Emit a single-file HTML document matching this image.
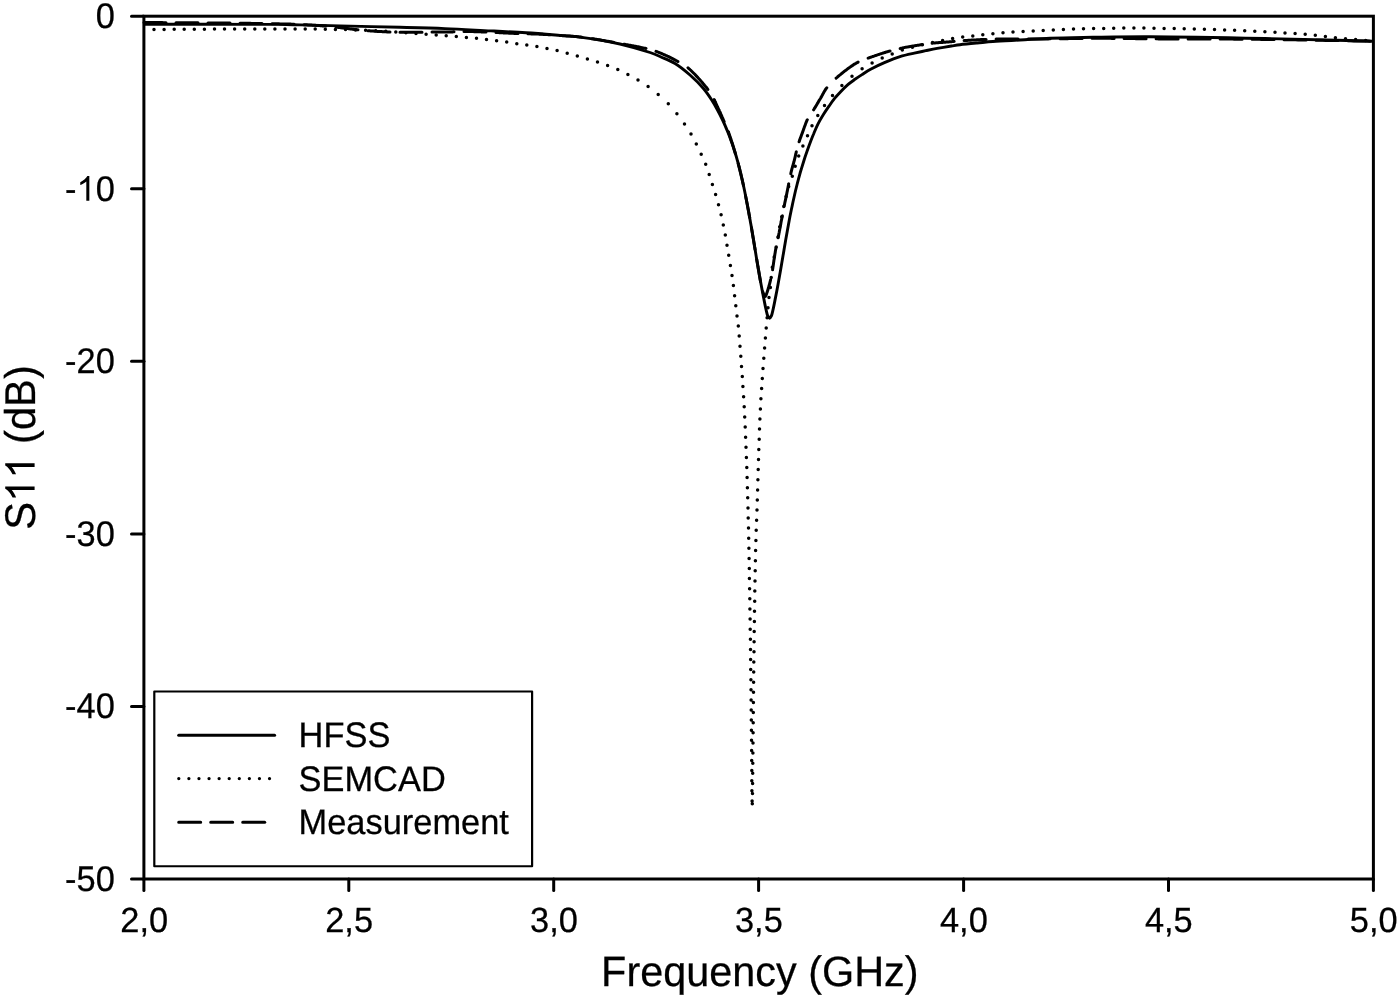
<!DOCTYPE html>
<html><head><meta charset="utf-8"><style>
html,body{margin:0;padding:0;background:#fff;width:1400px;height:999px;overflow:hidden;-webkit-font-smoothing:antialiased}
svg{display:block;filter:grayscale(1)}
text{font-family:"Liberation Sans",sans-serif;fill:#000;text-rendering:geometricPrecision;font-kerning:none}
.tk{font-size:34.4px}
.tt{font-size:41.4px}
.ty{font-size:41.7px}
text{stroke:#000;stroke-width:0.25px}
.h1{fill:transparent;stroke:none}
.ax{stroke:#000;stroke-width:3;stroke-linecap:round;fill:none}
.c{fill:none;stroke:#000;stroke-linejoin:round}
</style></head><body>
<svg width="1400" height="999" viewBox="0 0 1400 999">
<rect x="143.9" y="16.2" width="1229.5" height="862.8" fill="none" stroke="#000" stroke-width="3"/>
<line x1="131.5" y1="16.2" x2="143.9" y2="16.2" class="ax"/>
<g transform="translate(114.8,28.1) scale(1,1.035)"><text id="t1" class="tk" text-anchor="end">0</text></g>
<line x1="131.5" y1="188.8" x2="143.9" y2="188.8" class="ax"/>
<g transform="translate(114.8,200.7) scale(1,1.035)"><text id="t2" class="tk" text-anchor="end">-<tspan class="h1">1</tspan>0</text><path d="M763,0L583,0L583,1147Q518,1085 412,1023Q306,961 222,930L222,1104Q373,1175 486,1276Q599,1377 646,1472L763,1472Z" transform="translate(-38.28,0) scale(0.01680,-0.01623)"/></g>
<line x1="131.5" y1="361.3" x2="143.9" y2="361.3" class="ax"/>
<g transform="translate(114.8,373.2) scale(1,1.035)"><text id="t3" class="tk" text-anchor="end">-20</text></g>
<line x1="131.5" y1="533.9" x2="143.9" y2="533.9" class="ax"/>
<g transform="translate(114.8,545.8) scale(1,1.035)"><text id="t4" class="tk" text-anchor="end">-30</text></g>
<line x1="131.5" y1="706.4" x2="143.9" y2="706.4" class="ax"/>
<g transform="translate(114.8,718.3) scale(1,1.035)"><text id="t5" class="tk" text-anchor="end">-40</text></g>
<line x1="131.5" y1="879.0" x2="143.9" y2="879.0" class="ax"/>
<g transform="translate(114.8,890.9) scale(1,1.035)"><text id="t6" class="tk" text-anchor="end">-50</text></g>
<line x1="143.9" y1="879.0" x2="143.9" y2="890.4" class="ax"/>
<g transform="translate(144.2,932.0) scale(1,1.02)"><text id="t7" class="tk" text-anchor="middle">2,0</text></g>
<line x1="348.8" y1="879.0" x2="348.8" y2="890.4" class="ax"/>
<g transform="translate(349.1,932.0) scale(1,1.02)"><text id="t8" class="tk" text-anchor="middle">2,5</text></g>
<line x1="553.7" y1="879.0" x2="553.7" y2="890.4" class="ax"/>
<g transform="translate(554.0,932.0) scale(1,1.02)"><text id="t9" class="tk" text-anchor="middle">3,0</text></g>
<line x1="758.6" y1="879.0" x2="758.6" y2="890.4" class="ax"/>
<g transform="translate(758.9,932.0) scale(1,1.02)"><text id="t10" class="tk" text-anchor="middle">3,5</text></g>
<line x1="963.6" y1="879.0" x2="963.6" y2="890.4" class="ax"/>
<g transform="translate(963.9,932.0) scale(1,1.02)"><text id="t11" class="tk" text-anchor="middle">4,0</text></g>
<line x1="1168.5" y1="879.0" x2="1168.5" y2="890.4" class="ax"/>
<g transform="translate(1168.8,932.0) scale(1,1.02)"><text id="t12" class="tk" text-anchor="middle">4,5</text></g>
<line x1="1373.4" y1="879.0" x2="1373.4" y2="890.4" class="ax"/>
<g transform="translate(1373.7,932.0) scale(1,1.02)"><text id="t13" class="tk" text-anchor="middle">5,0</text></g>
<path class="c" d="M154.0,29.4h0M164.1,29.4h0M174.2,29.3h0M184.2,29.3h0M194.3,29.2h0M204.4,29.2h0M214.5,29.1h0M224.5,29.1h0M234.6,29.1h0M244.7,29.0h0M254.8,29.0h0M264.8,28.9h0M274.9,28.9h0M285.0,28.9h0M295.1,28.9h0M305.2,28.9h0M315.2,29.0h0M325.3,29.2h0M335.4,29.4h0M345.5,29.6h0M355.5,30.0h0M365.6,30.3h0M375.7,30.8h0M385.8,31.3h0M395.8,32.0h0M405.9,32.8h0M416.0,33.5h0M426.1,34.2h0M436.2,34.9h0M446.2,35.7h0M456.3,36.6h0M466.4,37.4h0M476.5,38.3h0M486.5,39.4h0M496.6,40.7h0M506.7,42.1h0M516.8,43.7h0M526.8,45.0h0M536.9,46.5h0M547.0,48.6h0M557.1,50.6h0M567.2,53.3h0M577.3,56.1h0M587.4,59.1h0M597.5,62.0h0M607.6,65.6h0M617.8,69.6h0M627.9,74.6h0M638.0,79.9h0M648.1,86.6h0M658.2,94.4h0M668.3,103.7h0M676.9,113.8h0M684.5,123.9h0M691.0,134.0h0M696.3,144.1h0M701.2,154.2h0M705.7,164.3h0M709.2,174.4h0M712.4,184.5h0M715.6,194.6h0M718.5,204.7h0M721.1,214.8h0M723.3,224.9h0M725.3,235.1h0M727.0,245.2h0M728.7,255.3h0M730.4,265.4h0M732.0,275.5h0M733.4,285.6h0M734.6,295.7h0M735.8,305.8h0M737.0,315.9h0M738.3,326.0h0M739.2,336.1h0M740.0,346.2h0M740.8,356.3h0M741.5,366.4h0M742.3,376.5h0M742.9,386.6h0M743.6,396.7h0M744.2,406.8h0M744.7,416.9h0M745.2,427.1h0M745.6,437.2h0M746.0,447.3h0M746.4,457.4h0M746.8,467.5h0M747.1,477.6h0M747.4,487.7h0M747.7,497.8h0M748.0,507.9h0M748.2,518.0h0M748.5,528.1h0M748.7,538.2h0M748.9,548.3h0M749.1,558.4h0M749.3,568.5h0M749.4,578.6h0M749.6,588.7h0M749.8,598.8h0M749.9,608.9h0M750.1,619.1h0M750.2,629.2h0M750.4,639.3h0M750.5,649.4h0M750.6,659.5h0M750.7,669.6h0M750.9,679.7h0M751.0,689.8h0M751.1,699.9h0M751.2,710.0h0M751.3,720.1h0M751.4,730.2h0M751.5,740.3h0M751.6,750.4h0M751.7,760.5h0M751.8,770.6h0M751.8,780.7h0M751.9,790.8h0M752.1,801.0h0M752.3,803.7h0M752.5,793.5h0M752.6,783.4h0M752.7,773.3h0M752.8,763.2h0M752.9,753.0h0M753.0,742.9h0M753.1,732.8h0M753.2,722.7h0M753.3,712.6h0M753.4,702.4h0M753.5,692.3h0M753.6,682.2h0M753.7,672.1h0M753.8,661.9h0M754.0,651.8h0M754.1,641.7h0M754.2,631.6h0M754.4,621.4h0M754.5,611.3h0M754.7,601.2h0M754.8,591.1h0M755.0,581.0h0M755.2,570.8h0M755.4,560.7h0M755.6,550.6h0M755.9,540.5h0M756.2,530.3h0M756.6,520.2h0M757.0,510.1h0M757.3,500.0h0M757.6,489.9h0M757.9,479.7h0M758.2,469.6h0M758.5,459.5h0M758.8,449.4h0M759.2,439.2h0M759.5,429.1h0M759.9,419.0h0M760.4,408.9h0M760.9,398.8h0M761.6,388.6h0M762.3,378.5h0M763.0,368.4h0M763.8,358.3h0M764.6,348.1h0M765.4,338.0h0M766.2,327.9h0M767.1,317.8h0M768.0,307.7h0M769.0,297.6h0M770.4,287.5h0M771.2,277.4h0M772.3,267.2h0M774.2,257.1h0M776.2,247.0h0M778.0,236.9h0M779.7,226.8h0M781.7,216.7h0M783.8,206.6h0M786.1,196.5h0M788.7,186.4h0M792.3,176.3h0M795.2,166.2h0M798.7,156.0h0M802.9,145.9h0M807.5,135.8h0M812.0,125.7h0M817.8,115.6h0M824.5,105.5h0M832.5,95.4h0M841.9,85.4h0M852.0,76.2h0M862.1,68.8h0M872.1,63.1h0M882.2,57.9h0M892.2,54.0h0M902.3,49.9h0M912.4,47.2h0M922.4,44.8h0M932.5,42.6h0M942.6,40.5h0M952.6,38.6h0M962.7,37.1h0M972.8,35.9h0M982.8,34.7h0M992.9,33.7h0M1003.0,32.8h0M1013.0,32.0h0M1023.1,31.5h0M1033.2,31.1h0M1043.2,30.5h0M1053.3,29.9h0M1063.4,29.4h0M1073.5,29.0h0M1083.5,28.8h0M1093.6,28.6h0M1103.7,28.4h0M1113.7,28.3h0M1123.8,28.1h0M1133.9,28.0h0M1143.9,28.1h0M1154.0,28.2h0M1164.1,28.4h0M1174.2,28.6h0M1184.2,28.8h0M1194.3,29.0h0M1204.4,29.3h0M1214.5,29.6h0M1224.6,29.9h0M1234.6,30.3h0M1244.7,30.7h0M1254.8,31.2h0M1264.9,31.7h0M1275.0,32.3h0M1285.0,32.9h0M1295.1,33.6h0M1305.2,34.3h0M1315.3,35.2h0M1325.4,36.4h0M1335.4,37.7h0M1345.5,38.7h0M1355.6,39.5h0M1365.7,40.4h0" stroke-width="3.5" stroke-linecap="round"/>
<path class="c" d="M144.0,22.6L145.4,22.6L146.8,22.6L148.2,22.6L149.6,22.6L151.0,22.6L152.4,22.6L153.8,22.6L155.2,22.6L156.6,22.6L158.0,22.6L159.3,22.6L160.7,22.6L162.1,22.6L163.5,22.7L164.9,22.7L166.0,22.7M176.0,22.7L176.1,22.7L177.5,22.7L178.9,22.7L180.3,22.7L181.7,22.7L183.1,22.7L184.5,22.7L185.9,22.7L187.3,22.7L188.7,22.7L190.1,22.7L191.5,22.7L192.9,22.8L194.3,22.8L195.7,22.8L197.2,22.8L198.0,22.8M208.0,22.9L209.0,22.9L210.5,22.9L212.1,22.9L213.6,22.9L215.1,22.9L216.7,22.9L218.2,23.0L219.8,23.0L221.3,23.0L222.9,23.0L224.4,23.0L226.0,23.0L227.5,23.0L229.1,23.1L230.0,23.1M240.0,23.2L241.3,23.2L242.8,23.2L244.3,23.3L245.8,23.3L247.3,23.3L248.7,23.3L250.2,23.3L251.6,23.4L253.1,23.4L254.5,23.4L255.9,23.4L257.3,23.5L258.6,23.5L260.0,23.5L261.1,23.5L262.0,23.5M272.0,23.7L272.8,23.7L273.8,23.7L274.8,23.8L275.8,23.8L276.9,23.8L277.9,23.8L278.9,23.8L279.9,23.9L280.9,23.9L281.9,23.9L282.8,23.9L283.8,24.0L284.8,24.0L285.8,24.0L286.7,24.0L287.7,24.1L288.7,24.1L289.6,24.1L290.6,24.1L291.5,24.2L292.5,24.2L293.4,24.2L294.0,24.3M304.0,24.7L304.7,24.7L305.5,24.8L306.3,24.8L307.0,24.8L307.8,24.9L308.6,24.9L309.3,25.0L310.1,25.0L310.8,25.1L311.6,25.1L312.3,25.2L313.1,25.2L313.8,25.2L314.5,25.3L315.3,25.3L316.0,25.4L316.7,25.4L317.5,25.5L318.2,25.5L318.9,25.6L319.7,25.6L320.4,25.7L321.1,25.8L321.9,25.8L322.6,25.9L323.3,25.9L324.1,26.0L324.8,26.0L325.5,26.1L326.0,26.1M336.0,27.1L336.0,27.1L336.8,27.2L337.5,27.3L338.3,27.4L339.0,27.5L339.8,27.6L340.5,27.7L341.3,27.8L342.0,27.9L342.8,28.0L343.5,28.1L344.3,28.2L345.0,28.2L345.7,28.3L346.5,28.4L347.2,28.5L348.0,28.6L348.7,28.7L349.5,28.8L350.2,28.9L351.0,29.0L351.7,29.1L352.5,29.2L353.2,29.3L354.0,29.4L354.7,29.5L355.5,29.5L356.2,29.6L357.0,29.7L357.7,29.8L358.0,29.8M368.0,30.7L368.2,30.7L369.0,30.8L369.7,30.8L370.5,30.9L371.2,30.9L372.0,31.0L372.7,31.0L373.5,31.1L374.2,31.2L375.0,31.2L375.7,31.3L376.5,31.3L377.2,31.4L378.0,31.4L378.7,31.4L379.5,31.5L380.2,31.5L381.0,31.6L381.7,31.6L382.5,31.7L383.2,31.7L384.0,31.7L384.7,31.8L385.5,31.8L386.2,31.8L387.0,31.9L387.7,31.9L388.5,31.9L389.2,32.0L390.0,32.0M400.0,32.2L400.6,32.2L401.4,32.2L402.1,32.2L402.9,32.2L403.6,32.2L404.4,32.2L405.2,32.2L405.9,32.2L406.7,32.2L407.4,32.2L408.2,32.2L408.9,32.2L409.7,32.2L410.5,32.2L411.2,32.2L411.9,32.2L412.7,32.2L413.4,32.2L414.2,32.2L414.9,32.2L415.6,32.2L416.4,32.2L417.1,32.2L417.8,32.2L418.6,32.2L419.3,32.2L420.0,32.2L420.7,32.2L421.3,32.2L421.9,32.2L422.0,32.2M432.0,32.1L432.0,32.1L432.6,32.1L433.3,32.1L433.9,32.1L434.5,32.1L435.1,32.1L435.7,32.1L436.3,32.1L437.0,32.1L437.6,32.1L438.2,32.1L438.8,32.1L439.4,32.1L440.0,32.1L440.7,32.1L441.3,32.0L441.9,32.0L442.5,32.0L443.1,32.0L443.8,32.0L444.4,32.0L445.0,32.0L445.6,32.0L446.3,32.0L446.9,32.0L447.5,32.0L448.1,32.0L448.8,31.9L449.4,31.9L450.0,31.9L450.7,31.9L451.3,31.9L452.0,31.9L452.6,31.9L453.2,31.8L453.9,31.8L454.0,31.8M464.0,31.6L464.6,31.6L465.2,31.6L465.8,31.6L466.4,31.6L467.0,31.6L467.6,31.6L468.2,31.6L468.8,31.6L469.4,31.6L470.0,31.6L470.5,31.6L471.1,31.6L471.6,31.6L472.1,31.6L472.6,31.6L473.1,31.6L473.6,31.6L474.1,31.7L474.7,31.7L475.2,31.7L475.7,31.7L476.2,31.7L476.7,31.7L477.2,31.7L477.7,31.7L478.2,31.8L478.7,31.8L479.2,31.8L479.6,31.8L480.1,31.8L480.6,31.8L481.1,31.9L481.6,31.9L482.1,31.9L482.6,31.9L483.1,31.9L483.6,31.9L484.1,32.0L484.6,32.0L485.1,32.0L485.5,32.0L486.0,32.0M496.0,32.5L496.4,32.5L496.8,32.5L497.3,32.6L497.8,32.6L498.3,32.6L498.8,32.6L499.3,32.7L499.7,32.7L500.2,32.7L500.7,32.7L501.2,32.8L501.7,32.8L502.2,32.8L502.7,32.8L503.2,32.9L503.7,32.9L504.2,32.9L504.7,33.0L505.2,33.0L505.7,33.0L506.3,33.0L506.8,33.1L507.3,33.1L507.8,33.1L508.4,33.1L508.9,33.2L509.5,33.2L510.0,33.2L510.7,33.2L511.4,33.3L512.1,33.3L512.8,33.3L513.5,33.3L514.2,33.4L515.0,33.4L515.7,33.4L516.5,33.4L517.2,33.5L518.0,33.5L518.0,33.5M528.0,33.8L528.1,33.8L528.9,33.8L529.7,33.8L530.5,33.8L531.3,33.9L532.0,33.9L532.8,33.9L533.5,33.9L534.3,34.0L535.0,34.0L535.8,34.0L536.5,34.0L537.2,34.1L537.9,34.1L538.6,34.1L539.3,34.2L540.0,34.2L540.5,34.2L541.1,34.3L541.6,34.3L542.2,34.3L542.7,34.3L543.2,34.4L543.7,34.4L544.3,34.4L544.8,34.5L545.3,34.5L545.8,34.5L546.3,34.6L546.8,34.6L547.3,34.6L547.8,34.6L548.3,34.7L548.8,34.7L549.3,34.7L549.8,34.8L550.0,34.8M560.0,35.5L560.0,35.5L560.5,35.5L561.0,35.6L561.5,35.6L562.0,35.6L562.5,35.7L562.9,35.7L563.4,35.7L563.9,35.7L564.4,35.8L564.8,35.8L565.3,35.8L565.8,35.9L566.3,35.9L566.7,35.9L567.2,35.9L567.7,36.0L568.2,36.0L568.6,36.0L569.1,36.0L569.6,36.1L570.1,36.1L570.5,36.1L571.0,36.2L571.5,36.2L572.0,36.2L572.5,36.3L573.0,36.3L573.5,36.4L574.0,36.4L574.5,36.4L575.0,36.5L575.6,36.5L576.1,36.6L576.6,36.6L577.2,36.7L577.7,36.7L578.3,36.8L578.8,36.9L579.4,36.9L580.0,37.0L580.8,37.1L581.7,37.2L582.0,37.2M592.0,38.7L592.1,38.7L593.1,38.8L594.1,39.0L595.2,39.2L596.2,39.3L597.2,39.5L598.3,39.7L599.3,39.8L600.4,40.0L601.4,40.2L602.5,40.4L603.6,40.5L604.6,40.7L605.7,40.9L606.7,41.1L607.8,41.3L608.8,41.5L609.9,41.6L610.9,41.8L612.0,42.0L613.0,42.2L614.0,42.4M624.0,44.2L624.6,44.3L625.5,44.5L626.4,44.7L627.3,44.8L628.2,45.0L629.1,45.2L630.1,45.3L631.0,45.5L631.9,45.7L632.8,45.8L633.7,46.0L634.6,46.2L635.5,46.3L636.4,46.5L637.3,46.7L638.2,46.8L639.1,47.0L640.0,47.2L640.9,47.4L641.8,47.6L642.6,47.8L643.5,47.9L644.4,48.1L645.2,48.3L646.0,48.5M656.0,51.3L656.2,51.4L656.9,51.6L657.5,51.9L658.1,52.1L658.7,52.3L659.3,52.6L659.9,52.8L660.5,53.0L661.1,53.3L661.7,53.5L662.3,53.8L662.9,54.1L663.5,54.3L664.1,54.6L664.7,54.8L665.2,55.1L665.8,55.4L666.4,55.6L666.9,55.9L667.5,56.2L668.1,56.4L668.6,56.7L669.1,56.9L669.7,57.2L670.2,57.5L670.7,57.7L671.3,58.0L671.8,58.3L672.3,58.5L672.8,58.8L673.3,59.0L673.8,59.3L674.2,59.6L674.7,59.8L675.2,60.0L675.7,60.3L676.1,60.5L676.6,60.8L677.0,61.0L677.3,61.2L677.6,61.3L677.9,61.5L678.0,61.5M688.0,67.8L688.3,68.1L688.8,68.5L689.2,68.9L689.7,69.3L690.2,69.8L690.7,70.2L691.2,70.7L691.7,71.2L692.2,71.7L692.7,72.2L693.2,72.7L693.7,73.2L694.3,73.8L694.8,74.3L695.3,74.9L695.8,75.4L696.3,76.0L696.9,76.5L697.4,77.1L697.9,77.6L698.4,78.2L698.9,78.8L699.4,79.3L699.9,79.9L700.4,80.4L700.9,81.0L701.4,81.5L701.9,82.1L702.3,82.6L702.8,83.1L703.2,83.7L703.7,84.2L704.1,84.7L704.5,85.2L704.9,85.6L705.3,86.1L705.6,86.6L706.0,87.0L706.2,87.3L706.5,87.6L706.7,87.9L706.9,88.1L707.1,88.4L707.3,88.7L707.5,89.0L707.7,89.2L707.9,89.5M714.1,99.5L714.1,99.6L714.2,99.8L714.4,100.1L714.5,100.3L714.6,100.6L714.8,100.9L714.9,101.1L715.0,101.4L715.1,101.7L715.2,101.9L715.4,102.2L715.5,102.4L715.6,102.7L715.7,103.0L715.9,103.2L716.0,103.5L716.1,103.8L716.2,104.0L716.3,104.3L716.4,104.6L716.6,104.8L716.7,105.1L716.8,105.3L716.9,105.6L717.0,105.9L717.2,106.1L717.3,106.4L717.4,106.7L717.5,106.9L717.6,107.2L717.8,107.5L717.9,107.7L718.0,108.0L718.1,108.3L718.3,108.5L718.4,108.8L718.5,109.1L718.6,109.4L718.8,109.6L718.9,109.9L719.0,110.2L719.1,110.4L719.3,110.7L719.4,111.0L719.5,111.3L719.6,111.5L719.8,111.8L719.9,112.1L720.0,112.4L720.1,112.6L720.3,112.9L720.4,113.2L720.5,113.4L720.6,113.7L720.8,114.0L720.9,114.3L721.0,114.5L721.1,114.8L721.3,115.1L721.4,115.4L721.5,115.6L721.6,115.9L721.8,116.2L721.9,116.5L722.0,116.8L722.1,117.0L722.3,117.3L722.4,117.6L722.5,117.9L722.6,118.2L722.8,118.4L722.9,118.7L723.0,119.0L723.1,119.3L723.3,119.6L723.4,119.9L723.5,120.2L723.6,120.5L723.8,120.8L723.9,121.1L724.0,121.4L724.1,121.5M728.2,131.5L728.2,131.6L728.3,131.9L728.4,132.2L728.5,132.4L728.6,132.7L728.8,133.0L728.9,133.3L729.0,133.6L729.1,133.9L729.2,134.2L729.3,134.5L729.4,134.7L729.5,135.0L729.6,135.3L729.7,135.6L729.8,135.9L729.9,136.2L730.0,136.5L730.1,136.8L730.2,137.0L730.3,137.3L730.4,137.6L730.5,137.9L730.6,138.2L730.7,138.5L730.8,138.8L730.9,139.0L731.0,139.3L731.1,139.6L731.1,139.9L731.2,140.2L731.3,140.5L731.4,140.8L731.5,141.1L731.6,141.3L731.7,141.6L731.8,141.9L731.9,142.2L732.0,142.5L732.1,142.8L732.2,143.1L732.3,143.4L732.4,143.6L732.5,143.9L732.6,144.2L732.6,144.5L732.7,144.8L732.8,145.1L732.9,145.4L733.0,145.6L733.1,145.9L733.2,146.2L733.3,146.5L733.4,146.8L733.4,147.1L733.5,147.3L733.6,147.6L733.7,147.9L733.8,148.2L733.9,148.5L734.0,148.8L734.0,149.1L734.1,149.3L734.2,149.6L734.3,149.9L734.4,150.2L734.5,150.5L734.6,150.8L734.6,151.1L734.7,151.4L734.8,151.7L734.9,151.9L735.0,152.2L735.1,152.5L735.2,152.8L735.2,153.1L735.3,153.4L735.4,153.5M738.2,163.5L738.2,163.6L738.3,163.9L738.4,164.2L738.4,164.5L738.5,164.9L738.6,165.2L738.7,165.5L738.8,165.8L738.9,166.1L738.9,166.4L739.0,166.7L739.1,167.0L739.2,167.2L739.2,167.5L739.3,167.7L739.3,168.0L739.4,168.2L739.5,168.4L739.5,168.7L739.6,168.9L739.6,169.1L739.7,169.3L739.8,169.6L739.8,169.8L739.9,170.0L739.9,170.2L740.0,170.4L740.0,170.6L740.1,170.9L740.1,171.1L740.2,171.3L740.2,171.5L740.3,171.7L740.3,171.9L740.4,172.2L740.4,172.4L740.5,172.6L740.5,172.8L740.6,173.0L740.7,173.2L740.7,173.5L740.8,173.7L740.8,173.9L740.9,174.1L740.9,174.4L741.0,174.6L741.0,174.8L741.1,175.0L741.1,175.3L741.2,175.5L741.2,175.8L741.3,176.0L741.4,176.3L741.4,176.6L741.5,176.9L741.6,177.2L741.6,177.5L741.7,177.8L741.8,178.1L741.9,178.4L741.9,178.7L742.0,179.0L742.1,179.3L742.1,179.6L742.2,179.9L742.3,180.3L742.4,180.6L742.4,180.9L742.5,181.2L742.6,181.5L742.6,181.9L742.7,182.2L742.8,182.5L742.9,182.8L742.9,183.2L743.0,183.5L743.1,183.8L743.1,184.1L743.2,184.4L743.3,184.8L743.4,185.1L743.4,185.4L743.5,185.5M745.5,195.5L745.5,195.6L745.6,195.9L745.6,196.1L745.7,196.4L745.7,196.6L745.8,196.9L745.8,197.2L745.9,197.4L745.9,197.7L746.0,197.9L746.0,198.2L746.1,198.5L746.1,198.7L746.2,199.0L746.3,199.3L746.3,199.5L746.4,199.8L746.4,200.1L746.5,200.4L746.5,200.6L746.6,200.9L746.6,201.2L746.7,201.5L746.7,201.7L746.8,202.0L746.8,202.3L746.9,202.6L746.9,202.9L747.0,203.1L747.1,203.4L747.1,203.7L747.2,204.0L747.2,204.2L747.3,204.5L747.3,204.8L747.4,205.1L747.4,205.3L747.5,205.6L747.5,205.9L747.6,206.2L747.6,206.5L747.7,206.7L747.7,207.0L747.8,207.3L747.8,207.6L747.9,207.8L747.9,208.1L748.0,208.4L748.0,208.6L748.1,208.9L748.1,209.2L748.2,209.5L748.3,209.7L748.3,210.0L748.3,210.3L748.4,210.5L748.4,210.8L748.5,211.0L748.5,211.3L748.6,211.5L748.6,211.8L748.7,212.0L748.7,212.3L748.8,212.5L748.8,212.8L748.9,213.0L748.9,213.3L748.9,213.5L749.0,213.8L749.0,214.0L749.1,214.3L749.1,214.5L749.2,214.8L749.2,215.0L749.3,215.2L749.3,215.5L749.3,215.7L749.4,216.0L749.4,216.2L749.5,216.5L749.5,216.7L749.6,217.0L749.6,217.2L749.7,217.5L749.7,217.5M751.4,227.5L751.4,227.6L751.5,227.9L751.5,228.2L751.6,228.5L751.6,228.7L751.7,229.0L751.7,229.3L751.8,229.6L751.8,229.9L751.9,230.2L751.9,230.4L752.0,230.7L752.0,231.0L752.1,231.3L752.1,231.6L752.2,231.9L752.2,232.2L752.3,232.5L752.3,232.8L752.4,233.1L752.4,233.4L752.5,233.7L752.5,234.1L752.6,234.4L752.6,234.7L752.7,235.0L752.7,235.3L752.8,235.6L752.8,235.9L752.9,236.2L752.9,236.5L753.0,236.9L753.0,237.2L753.1,237.5L753.1,237.8L753.2,238.1L753.3,238.4L753.3,238.7L753.4,239.1L753.4,239.4L753.5,239.7L753.5,240.0L753.6,240.3L753.6,240.6L753.7,241.0L753.7,241.3L753.8,241.6L753.8,241.9L753.9,242.2L753.9,242.5L754.0,242.9L754.0,243.2L754.1,243.5L754.2,243.8L754.2,244.2L754.3,244.5L754.3,244.8L754.4,245.2L754.4,245.5L754.5,245.8L754.5,246.2L754.6,246.5L754.6,246.8L754.7,247.2L754.8,247.5L754.8,247.8L754.9,248.2L754.9,248.5L755.0,248.9L755.0,249.2L755.1,249.5M756.7,259.5L756.8,259.7L756.8,260.0L756.9,260.4L756.9,260.7L757.0,261.1L757.0,261.4L757.1,261.7L757.2,262.1L757.2,262.4L757.3,262.7L757.3,263.1L757.4,263.4L757.4,263.8L757.5,264.1L757.6,264.4L757.6,264.8L757.7,265.1L757.7,265.4L757.8,265.8L757.8,266.1L757.9,266.5L758.0,266.8L758.0,267.1L758.1,267.5L758.1,267.8L758.2,268.1L758.2,268.5L758.3,268.8L758.4,269.2L758.4,269.5L758.5,269.8L758.5,270.2L758.6,270.5L758.7,270.8L758.7,271.2L758.8,271.5L758.8,271.9L758.9,272.2L759.0,272.6L759.0,272.9L759.1,273.3L759.1,273.6L759.2,273.9L759.2,274.3L759.3,274.7L759.4,275.0L759.4,275.4L759.5,275.7L759.5,276.1L759.6,276.4L759.7,276.8L759.7,277.1L759.8,277.4L759.8,277.8L759.9,278.1L760.0,278.5L760.0,278.8L760.1,279.2L760.1,279.5L760.2,279.8L760.3,280.2L760.3,280.5L760.4,280.8L760.5,281.2L760.5,281.5L760.5,281.5M762.6,291.5L762.7,291.6L762.7,291.8L762.8,292.0L762.9,292.2L762.9,292.3L763.0,292.5L763.0,292.6L763.1,292.8L763.2,292.9L763.2,293.0L763.3,293.1L763.3,293.3L763.4,293.4L763.4,293.5L763.5,293.7L763.5,293.8L763.6,294.0L763.7,294.1L763.7,294.2L763.8,294.4L763.8,294.5L763.9,294.6L764.0,294.8L764.0,294.9L764.1,295.0L764.2,295.1L764.2,295.2L764.3,295.4L764.3,295.5L764.4,295.6L764.5,295.7L764.5,295.8L764.6,295.9L764.6,296.0L764.7,296.0L764.8,296.1L764.8,296.2L764.9,296.3L764.9,296.3L765.0,296.4L765.0,296.4L765.1,296.4L765.2,296.5L765.2,296.5L765.3,296.5L765.3,296.5L765.3,296.5L765.4,296.5L765.4,296.5L765.4,296.5L765.5,296.4L765.5,296.4L765.5,296.4L765.6,296.3L765.6,296.3L765.6,296.3L765.7,296.2L765.7,296.2L765.7,296.1L765.8,296.0L765.8,296.0L765.8,295.9L765.8,295.9L765.9,295.8L765.9,295.7L765.9,295.7L765.9,295.6L766.0,295.5L766.0,295.4L766.0,295.3L766.1,295.3L766.1,295.2L766.1,295.1L766.1,295.0L766.2,294.9L766.2,294.8L766.2,294.8L766.3,294.7L766.3,294.6L766.3,294.5L766.3,294.4L766.4,294.3L766.4,294.2L766.4,294.2L766.5,294.1L766.5,294.0L766.6,293.9L766.6,293.7L766.7,293.6L766.7,293.4L766.8,293.2L766.8,293.1L766.9,292.9L767.0,292.7L767.0,292.5L767.1,292.4L767.2,292.2L767.2,292.0L767.3,291.8L767.3,291.6L767.4,291.4L767.5,291.2L767.5,291.0L767.6,290.8L767.7,290.6L767.7,290.4L767.8,290.2L767.9,290.0L767.9,289.7L768.0,289.5L768.1,289.3L768.1,289.1L768.2,288.9L768.2,288.6L768.3,288.4L768.4,288.2L768.4,288.0L768.5,287.8L768.6,287.5L768.6,287.3L768.7,287.1L768.8,286.9L768.8,286.7L768.9,286.4L768.9,286.2L769.0,286.0L769.1,285.7L769.1,285.5L769.2,285.2L769.3,285.0L769.4,284.7L769.4,284.4L769.5,284.1L769.6,283.9L769.7,283.6L769.7,283.3L769.8,283.0L769.9,282.7L770.0,282.4L770.0,282.1L770.1,281.8L770.2,281.5L770.2,281.3L770.3,281.0L770.4,280.7L770.5,280.4L770.5,280.1L770.6,279.8L770.6,279.8M772.6,269.8L772.6,269.8L772.6,269.6L772.6,269.4L772.7,269.1L772.7,268.9L772.8,268.6L772.8,268.4L772.8,268.1L772.9,267.8L772.9,267.6L772.9,267.3L773.0,267.0L773.0,266.7L773.1,266.4L773.1,266.1L773.2,265.9L773.2,265.6L773.2,265.3L773.3,265.0L773.3,264.7L773.4,264.4L773.4,264.1L773.5,263.8L773.5,263.5L773.5,263.1L773.6,262.8L773.6,262.5L773.7,262.2L773.7,261.9L773.8,261.6L773.8,261.3L773.8,261.0L773.9,260.7L773.9,260.4L774.0,260.1L774.0,259.8L774.1,259.5L774.1,259.2L774.2,258.9L774.2,258.6L774.3,258.3L774.3,258.0L774.3,257.7L774.4,257.4L774.4,257.1L774.5,256.9L774.5,256.6L774.6,256.3L774.6,256.0L774.7,255.7L774.7,255.4L774.7,255.2L774.8,254.9L774.8,254.6L774.9,254.3L774.9,254.0L775.0,253.7L775.0,253.5L775.1,253.2L775.1,252.9L775.2,252.6L775.2,252.3L775.3,252.0L775.3,251.8L775.3,251.5L775.4,251.2L775.4,250.9L775.5,250.6L775.5,250.3L775.6,250.1L775.6,249.8L775.7,249.5L775.7,249.2L775.8,248.9L775.8,248.7L775.9,248.4L775.9,248.1L776.0,247.8L776.0,247.8M778.1,237.8L778.1,237.7L778.2,237.4L778.3,237.2L778.3,236.9L778.4,236.6L778.4,236.3L778.5,236.0L778.6,235.6L778.6,235.3L778.7,234.9L778.8,234.5L778.9,234.1L778.9,233.7L779.0,233.3L779.1,232.9L779.2,232.5L779.3,232.0L779.3,231.6L779.4,231.2L779.5,230.7L779.6,230.3L779.7,229.9L779.7,229.4L779.8,229.0L779.9,228.6L780.0,228.1L780.1,227.7L780.1,227.2L780.2,226.8L780.3,226.4L780.4,226.0L780.5,225.5L780.5,225.1L780.6,224.7L780.7,224.3L780.8,223.9L780.8,223.5L780.9,223.1L781.0,222.7L781.0,222.3L781.1,222.0L781.2,221.6L781.2,221.3L781.3,220.9L781.4,220.6L781.4,220.3L781.5,220.0L781.5,219.8L781.6,219.7L781.6,219.5L781.6,219.3L781.7,219.2L781.7,219.0L781.7,218.9L781.8,218.7L781.8,218.6L781.8,218.5L781.9,218.3L781.9,218.2L781.9,218.0L781.9,217.9L782.0,217.8L782.0,217.7L782.0,217.5L782.1,217.4L782.1,217.3L782.1,217.2L782.2,217.0L782.2,216.9L782.2,216.8L782.2,216.7L782.3,216.5L782.3,216.4L782.3,216.3L782.3,216.2L782.4,216.0L782.4,215.9L782.4,215.8M784.2,205.8L784.3,205.7L784.3,205.5L784.4,205.2L784.4,205.0L784.5,204.7L784.5,204.4L784.6,204.2L784.6,203.9L784.7,203.6L784.7,203.4L784.8,203.1L784.8,202.8L784.9,202.6L784.9,202.3L785.0,202.0L785.1,201.7L785.1,201.5L785.2,201.2L785.2,200.9L785.3,200.7L785.4,200.4L785.4,200.1L785.5,199.8L785.5,199.5L785.6,199.3L785.7,199.0L785.7,198.7L785.8,198.4L785.8,198.1L785.9,197.9L786.0,197.6L786.0,197.3L786.1,197.0L786.1,196.7L786.2,196.5L786.2,196.2L786.3,195.9L786.4,195.6L786.4,195.3L786.5,195.1L786.5,194.8L786.6,194.5L786.7,194.2L786.7,193.9L786.8,193.6L786.8,193.3L786.9,193.0L787.0,192.7L787.0,192.4L787.1,192.1L787.1,191.8L787.2,191.5L787.3,191.2L787.3,190.9L787.4,190.6L787.4,190.3L787.5,190.0L787.6,189.7L787.6,189.4L787.7,189.1L787.7,188.8L787.8,188.5L787.9,188.2L787.9,187.9L788.0,187.6L788.0,187.3L788.1,187.0L788.2,186.7L788.2,186.4L788.3,186.1L788.3,185.8L788.4,185.5L788.5,185.2L788.5,184.9L788.6,184.6L788.6,184.3L788.7,184.0L788.7,183.8M790.8,173.8L790.8,173.6L790.9,173.3L790.9,173.0L791.0,172.7L791.1,172.4L791.1,172.1L791.2,171.9L791.3,171.6L791.3,171.3L791.4,171.0L791.5,170.7L791.5,170.4L791.6,170.2L791.7,169.9L791.7,169.6L791.8,169.3L791.9,169.0L792.0,168.8L792.0,168.5L792.1,168.2L792.2,167.9L792.3,167.6L792.4,167.4L792.4,167.1L792.5,166.8L792.6,166.5L792.7,166.2L792.7,166.0L792.8,165.7L792.9,165.4L793.0,165.1L793.1,164.9L793.1,164.6L793.2,164.3L793.3,164.0L793.4,163.8L793.5,163.5L793.5,163.2L793.6,162.9L793.7,162.7L793.8,162.4L793.8,162.1L793.9,161.9L794.0,161.6L794.1,161.3L794.1,161.1L794.2,160.8L794.3,160.5L794.3,160.3L794.4,160.0L794.5,159.8L794.5,159.5L794.6,159.3L794.6,159.1L794.7,158.8L794.7,158.6L794.8,158.4L794.8,158.2L794.9,157.9L795.0,157.7L795.0,157.5L795.1,157.3L795.1,157.1L795.2,156.8L795.2,156.6L795.3,156.4L795.3,156.2L795.4,156.0L795.4,155.7L795.5,155.5L795.5,155.3L795.5,155.1L795.6,154.9L795.6,154.6L795.7,154.4L795.7,154.2L795.8,154.0L795.8,153.8L795.9,153.5L796.0,153.3L796.0,153.1L796.1,152.9L796.1,152.7L796.2,152.4L796.2,152.2L796.3,152.0L796.3,151.8L796.3,151.8M799.1,141.8L799.2,141.5L799.3,141.3L799.4,141.0L799.5,140.8L799.6,140.5L799.6,140.2L799.7,140.0L799.8,139.7L799.9,139.4L800.0,139.2L800.1,138.9L800.2,138.6L800.3,138.4L800.4,138.1L800.5,137.8L800.6,137.6L800.7,137.3L800.8,137.0L800.9,136.8L801.0,136.5L801.1,136.2L801.2,135.9L801.3,135.7L801.4,135.4L801.5,135.1L801.6,134.9L801.7,134.6L801.8,134.3L801.9,134.0L802.0,133.8L802.1,133.5L802.2,133.2L802.3,133.0L802.4,132.7L802.5,132.4L802.6,132.1L802.7,131.9L802.8,131.6L802.9,131.3L803.0,131.0L803.1,130.8L803.2,130.5L803.3,130.2L803.4,129.9L803.5,129.6L803.6,129.4L803.7,129.1L803.8,128.8L803.9,128.5L804.0,128.2L804.1,127.9L804.2,127.6L804.3,127.3L804.4,127.0L804.5,126.7L804.6,126.4L804.7,126.1L804.8,125.9L805.0,125.6L805.1,125.3L805.2,125.0L805.3,124.7L805.4,124.4L805.5,124.1L805.6,123.8L805.7,123.5L805.8,123.2L805.9,122.9L806.0,122.6L806.2,122.3L806.3,122.0L806.4,121.8L806.5,121.5L806.6,121.2L806.8,120.9L806.9,120.6L807.0,120.3L807.1,120.0L807.3,119.8M813.6,109.8L813.8,109.5L813.9,109.3L814.1,109.0L814.3,108.7L814.5,108.4L814.7,108.1L814.8,107.9L815.0,107.6L815.2,107.3L815.3,107.1L815.5,106.8L815.6,106.6L815.8,106.3L815.9,106.1L816.1,105.9L816.2,105.6L816.4,105.4L816.5,105.1L816.7,104.9L816.8,104.6L817.0,104.4L817.1,104.1L817.2,103.9L817.4,103.6L817.5,103.4L817.7,103.2L817.8,102.9L818.0,102.7L818.1,102.4L818.2,102.2L818.4,101.9L818.5,101.7L818.7,101.4L818.8,101.2L818.9,101.0L819.1,100.7L819.2,100.5L819.4,100.2L819.5,100.0L819.7,99.8L819.8,99.5L819.9,99.3L820.1,99.0L820.2,98.8L820.4,98.5L820.5,98.3L820.7,98.0L820.8,97.8L820.9,97.6L821.1,97.3L821.2,97.1L821.4,96.8L821.5,96.6L821.7,96.3L821.8,96.1L821.9,95.8L822.1,95.6L822.2,95.3L822.3,95.1L822.5,94.8L822.6,94.6L822.7,94.3L822.9,94.1L823.0,93.8L823.2,93.6L823.3,93.3L823.4,93.1L823.6,92.8L823.7,92.6L823.8,92.3L824.0,92.1L824.1,91.8L824.3,91.6L824.4,91.3L824.6,91.1L824.7,90.8L824.9,90.6L825.0,90.4L825.2,90.1L825.3,89.9L825.5,89.6L825.6,89.4L825.8,89.2L825.9,88.9L826.1,88.7L826.3,88.5L826.4,88.2L826.6,88.0L826.8,87.8M836.1,78.1L836.2,78.0L836.7,77.7L837.2,77.3L837.6,76.9L838.1,76.4L838.6,76.0L839.1,75.6L839.6,75.2L840.1,74.8L840.7,74.3L841.2,73.9L841.7,73.5L842.3,73.0L842.8,72.6L843.4,72.1L843.9,71.7L844.5,71.3L845.0,70.8L845.6,70.4L846.2,70.0L846.7,69.6L847.3,69.1L847.8,68.7L848.4,68.3L848.9,67.9L849.5,67.5L850.0,67.2L850.5,66.8L851.1,66.4L851.6,66.1L852.1,65.7L852.6,65.4L853.1,65.1L853.5,64.7L854.0,64.4L854.5,64.2L854.9,63.9L855.2,63.7L855.5,63.6L855.7,63.4L856.0,63.3L856.3,63.1L856.5,63.0L856.8,62.8L857.0,62.7L857.3,62.6L857.5,62.4L857.8,62.3L858.0,62.2L858.1,62.1M868.1,58.1L868.5,58.0L869.0,57.8L869.5,57.6L870.0,57.4L870.6,57.3L871.1,57.1L871.7,56.9L872.3,56.7L872.8,56.5L873.4,56.3L874.0,56.1L874.6,55.9L875.1,55.7L875.7,55.5L876.3,55.3L876.9,55.1L877.5,54.9L878.1,54.7L878.6,54.5L879.2,54.3L879.8,54.1L880.4,53.9L881.0,53.7L881.5,53.6L882.1,53.4L882.7,53.2L883.2,53.0L883.8,52.9L884.3,52.7L884.8,52.5L885.4,52.4L885.9,52.2L886.4,52.0L886.9,51.9L887.3,51.8L887.7,51.7L888.1,51.5L888.5,51.4L888.9,51.3L889.2,51.2L889.6,51.1L890.0,51.0L890.1,51.0M900.1,48.4L900.1,48.4L900.5,48.4L900.9,48.3L901.3,48.2L901.7,48.1L902.2,48.0L902.6,47.9L903.1,47.8L903.6,47.7L904.1,47.6L904.6,47.5L905.1,47.4L905.6,47.3L906.1,47.2L906.6,47.1L907.1,47.0L907.6,47.0L908.2,46.9L908.7,46.8L909.2,46.7L909.8,46.6L910.3,46.5L910.8,46.4L911.3,46.3L911.9,46.2L912.4,46.1L912.9,46.1L913.4,46.0L914.0,45.9L914.5,45.8L915.0,45.7L915.5,45.6L916.0,45.6L916.5,45.5L917.0,45.4L917.5,45.3L917.9,45.3L918.4,45.2L918.9,45.1L919.3,45.0L919.7,45.0L920.2,44.9L920.6,44.8L921.0,44.8L921.4,44.7L921.7,44.7L921.9,44.6L922.1,44.6M932.1,43.2L932.3,43.2L932.8,43.1L933.3,43.1L933.8,43.0L934.4,43.0L934.9,42.9L935.5,42.9L936.0,42.8L936.6,42.8L937.2,42.8L937.7,42.7L938.3,42.7L938.9,42.6L939.5,42.6L940.1,42.5L940.7,42.5L941.3,42.4L941.9,42.4L942.5,42.4L943.1,42.3L943.7,42.3L944.2,42.2L944.8,42.2L945.4,42.2L945.9,42.1L946.5,42.1L947.0,42.0L947.6,42.0L948.1,42.0L948.6,41.9L949.1,41.9L949.6,41.8L950.1,41.8L950.5,41.8L951.0,41.7L951.4,41.7L951.7,41.7L951.9,41.7L952.2,41.6L952.4,41.6L952.6,41.6L952.9,41.6L953.1,41.5L953.3,41.5L953.5,41.5L953.7,41.5L953.9,41.5L954.1,41.4M964.1,40.6L964.3,40.6L964.8,40.6L965.3,40.5L965.9,40.5L966.4,40.5L967.0,40.4L967.6,40.4L968.1,40.3L968.7,40.3L969.3,40.3L969.9,40.2L970.4,40.2L971.0,40.2L971.6,40.1L972.2,40.1L972.8,40.1L973.3,40.0L973.9,40.0L974.5,40.0L975.1,39.9L975.6,39.9L976.2,39.9L976.8,39.8L977.3,39.8L977.9,39.8L978.4,39.8L978.9,39.7L979.4,39.7L979.9,39.7L980.4,39.6L980.9,39.6L981.4,39.6L981.8,39.6L982.1,39.6L982.5,39.5L982.8,39.5L983.1,39.5L983.5,39.5L983.8,39.5L984.1,39.5L984.5,39.4L984.8,39.4L985.1,39.4L985.4,39.4L985.7,39.4L986.0,39.4L986.1,39.4M996.1,39.1L996.2,39.1L996.7,39.1L997.1,39.1L997.6,39.1L998.1,39.1L998.6,39.1L999.1,39.1L999.6,39.1L1000.1,39.1L1000.5,39.1L1001.0,39.1L1001.6,39.1L1002.1,39.1L1002.6,39.1L1003.1,39.1L1003.6,39.1L1004.1,39.1L1004.7,39.1L1005.2,39.1L1005.7,39.1L1006.3,39.1L1006.8,39.1L1007.4,39.1L1007.9,39.1L1008.5,39.1L1009.0,39.1L1009.6,39.1L1010.2,39.1L1010.8,39.1L1011.4,39.1L1012.0,39.1L1012.6,39.1L1013.2,39.1L1013.8,39.1L1014.4,39.1L1015.1,39.1L1015.7,39.1L1016.7,39.1L1017.7,39.1L1018.1,39.1M1028.1,39.0L1029.0,39.0L1030.2,39.0L1031.5,39.0L1032.7,39.0L1034.0,39.0L1035.2,39.0L1036.5,39.0L1037.8,38.9L1039.1,38.9L1040.4,38.9L1041.7,38.9L1043.0,38.9L1044.3,38.9L1045.6,38.9L1046.8,38.9L1048.1,38.9L1049.4,38.8L1050.1,38.8M1060.1,38.7L1060.6,38.7L1061.7,38.7L1062.9,38.7L1064.0,38.7L1065.0,38.7L1065.9,38.7L1066.9,38.7L1067.8,38.7L1068.7,38.6L1069.6,38.6L1070.5,38.6L1071.4,38.6L1072.3,38.6L1073.2,38.6L1074.1,38.6L1075.0,38.6L1075.9,38.5L1076.8,38.5L1077.6,38.5L1078.5,38.5L1079.4,38.5L1080.2,38.5L1081.1,38.5L1082.0,38.5L1082.1,38.5M1092.1,38.3L1092.5,38.3L1093.4,38.3L1094.3,38.3L1095.3,38.3L1096.2,38.3L1097.1,38.3L1098.1,38.3L1099.0,38.3L1100.0,38.3L1101.2,38.3L1102.3,38.3L1103.5,38.3L1104.7,38.3L1105.9,38.3L1107.1,38.3L1108.3,38.3L1109.5,38.3L1110.7,38.3L1111.9,38.4L1113.2,38.4L1114.1,38.4M1124.1,38.5L1124.5,38.5L1125.8,38.5L1127.0,38.5L1128.3,38.6L1129.6,38.6L1130.9,38.6L1132.2,38.6L1133.5,38.6L1134.7,38.6L1136.0,38.7L1137.3,38.7L1138.6,38.7L1139.9,38.7L1141.1,38.7L1142.4,38.7L1143.7,38.7L1145.0,38.8L1146.1,38.8M1156.1,38.8L1156.2,38.8L1157.4,38.8L1158.7,38.9L1159.9,38.9L1161.1,38.9L1162.3,38.9L1163.6,38.9L1164.8,38.9L1166.0,38.9L1167.2,38.9L1168.5,38.9L1169.7,38.9L1170.9,38.9L1172.1,38.9L1173.4,38.9L1174.6,38.9L1175.8,38.9L1177.1,38.9L1178.1,38.9M1188.1,39.0L1188.3,39.0L1189.6,39.0L1190.9,39.0L1192.1,39.0L1193.4,39.0L1194.7,39.0L1196.0,39.0L1197.4,39.0L1198.7,39.0L1200.0,39.0L1201.5,39.0L1203.0,39.0L1204.6,39.0L1206.1,39.0L1207.6,39.0L1209.1,39.0L1210.1,39.0M1220.1,39.1L1221.5,39.1L1223.0,39.1L1224.6,39.1L1226.2,39.1L1227.8,39.1L1229.3,39.1L1230.9,39.1L1232.5,39.1L1234.2,39.2L1235.8,39.2L1237.4,39.2L1239.0,39.2L1240.7,39.2L1242.1,39.2M1252.1,39.3L1252.5,39.3L1254.3,39.3L1256.0,39.3L1257.8,39.3L1259.6,39.3L1261.4,39.4L1263.2,39.4L1265.0,39.4L1267.4,39.4L1269.8,39.5L1272.2,39.5L1274.1,39.5M1284.1,39.7L1284.9,39.7L1287.5,39.7L1290.1,39.7L1292.7,39.8L1295.4,39.8L1298.1,39.9L1300.8,39.9L1303.5,40.0L1306.1,40.0M1316.1,40.2L1317.3,40.2L1320.1,40.3L1322.9,40.3L1325.7,40.4L1328.5,40.4L1331.3,40.5L1334.1,40.5L1336.9,40.6L1338.1,40.6M1348.1,40.8L1348.2,40.8L1351.0,40.8L1353.8,40.9L1356.5,40.9L1359.3,41.0L1362.1,41.0L1364.8,41.1L1367.6,41.1L1370.1,41.2" stroke-width="3" stroke-linecap="round"/>
<path class="c" d="M144.0,24.2 C162.7,24.2 181.9,24.2 200.0,24.2 C217.1,24.2 235.5,24.4 250.0,24.4 C261.3,24.4 271.0,24.3 280.0,24.4 C287.3,24.5 292.2,24.7 300.0,24.9 C311.0,25.2 325.3,25.5 340.0,25.9 C358.0,26.3 381.4,26.8 400.0,27.3 C416.1,27.7 429.9,28.0 445.0,28.6 C460.3,29.2 476.7,30.2 491.0,30.9 C503.5,31.5 514.4,32.0 526.0,32.8 C537.4,33.5 550.2,34.6 560.0,35.4 C567.5,36.0 572.2,36.1 580.0,37.1 C591.1,38.5 607.7,41.2 620.0,44.0 C630.8,46.5 642.7,50.0 650.0,52.5 C654.3,54.0 656.4,54.9 660.0,56.5 C664.5,58.5 670.2,60.6 675.0,63.5 C680.2,66.6 685.3,70.9 690.0,75.0 C694.6,79.1 699.2,83.6 703.0,88.0 C706.4,91.9 709.2,96.1 711.7,100.0 C713.9,103.4 715.7,106.6 717.5,110.0 C719.3,113.3 720.9,116.5 722.6,120.0 C724.4,123.8 726.2,128.1 727.8,132.0 C729.3,135.7 730.6,139.3 731.9,143.0 C733.2,146.7 734.5,150.8 735.5,154.0 C736.3,156.4 736.8,158.3 737.4,160.5 C738.0,162.7 738.5,164.7 739.1,167.0 C739.8,169.8 740.5,172.8 741.3,176.0 C742.2,179.8 743.3,184.5 744.1,188.5 C744.9,192.1 745.5,195.5 746.2,199.0 C746.9,202.6 747.6,206.4 748.3,210.0 C748.9,213.4 749.5,216.6 750.1,220.0 C750.7,223.6 751.4,227.2 752.0,231.0 C752.7,235.0 753.4,239.3 754.1,243.5 C754.8,247.9 755.6,252.5 756.3,257.0 C757.1,261.5 757.8,266.0 758.6,270.5 C759.4,275.0 760.2,279.5 761.0,284.0 C761.8,288.5 762.7,293.2 763.6,297.6 C764.4,301.6 765.2,306.0 766.0,309.3 C766.6,311.9 767.0,314.4 767.8,316.0 C768.3,317.0 768.9,318.3 769.5,318.3 C770.1,318.3 770.8,317.0 771.3,316.0 C772.1,314.4 772.5,311.9 773.1,309.3 C773.9,306.0 774.7,301.6 775.5,297.6 C776.4,293.2 777.3,288.5 778.1,284.0 C778.9,279.5 779.7,275.0 780.5,270.5 C781.3,266.0 782.0,261.5 782.8,257.0 C783.6,252.5 784.3,247.9 785.1,243.5 C785.8,239.3 786.6,235.0 787.3,231.0 C788.0,227.2 788.6,223.7 789.3,220.0 C790.0,216.1 790.9,211.9 791.7,208.0 C792.5,204.3 793.2,200.8 794.1,197.0 C795.0,192.8 796.1,188.2 797.2,184.0 C798.2,179.9 799.3,176.0 800.4,172.0 C801.6,168.0 803.0,163.6 804.1,160.0 C805.0,157.1 805.7,155.1 806.7,152.3 C807.9,149.0 809.3,144.8 810.6,141.5 C811.7,138.6 812.6,136.2 813.8,133.5 C815.0,130.6 816.3,127.4 817.8,124.4 C819.4,121.2 821.5,117.7 823.4,114.6 C825.2,111.7 827.1,108.9 829.0,106.2 C830.8,103.5 832.6,100.9 834.6,98.4 C836.6,95.9 838.7,93.7 840.9,91.4 C843.1,89.1 845.5,86.7 847.9,84.6 C850.2,82.6 852.6,81.0 855.0,79.3 C857.3,77.7 859.5,76.2 862.0,74.6 C864.8,72.8 867.7,70.8 871.1,69.0 C875.1,66.9 879.8,64.7 884.4,62.7 C889.4,60.6 894.9,58.3 900.0,56.7 C904.8,55.2 909.8,54.2 914.3,53.2 C918.3,52.3 921.9,51.5 925.7,50.7 C929.5,49.9 933.1,49.1 937.1,48.4 C941.6,47.6 947.2,46.7 951.4,46.0 C954.6,45.5 956.6,45.1 960.0,44.7 C964.7,44.1 971.5,43.5 977.1,43.0 C982.5,42.5 986.9,41.9 992.9,41.5 C1000.7,40.9 1010.7,40.5 1020.0,40.0 C1029.7,39.5 1039.1,38.7 1050.0,38.3 C1063.0,37.8 1077.7,37.6 1093.0,37.3 C1110.7,37.0 1127.7,36.6 1150.0,36.7 C1181.7,36.8 1227.3,37.7 1265.0,38.5 C1301.6,39.2 1337.0,40.3 1373.0,41.2" stroke-width="2.9"/>
<rect x="154.3" y="691.5" width="377.8" height="174.75" fill="#fff" stroke="#000" stroke-width="2.2" stroke-linejoin="round"/>
<line x1="178.7" y1="735.3" x2="274.6" y2="735.3" stroke="#000" stroke-width="3" stroke-linecap="round"/>
<line x1="178.8" y1="778.6" x2="272" y2="778.6" stroke="#000" stroke-width="3.3" stroke-linecap="round" stroke-dasharray="0 10.08"/>
<line x1="178.7" y1="822.3" x2="264.8" y2="822.3" stroke="#000" stroke-width="3" stroke-linecap="round" stroke-dasharray="22 10"/>
<g transform="translate(298.6,746.8) scale(1,1.03)"><text id="t14" class="tk">HFSS</text></g>
<g transform="translate(298.6,790.6) scale(1,1.03)"><text id="t15" class="tk">SEMCAD</text></g>
<g transform="translate(298.6,833.8) scale(1,1.03)"><text id="t16" class="tk">Measurement</text></g>
<g transform="translate(759.8,986.4) scale(1,1.025)"><text id="t17" class="tt" text-anchor="middle">Frequency (GHz)</text></g>
<g transform="translate(34.6,447.5) rotate(-90) scale(1,1.03)"><text id="t18" class="ty" text-anchor="middle">S<tspan class="h1">1</tspan><tspan class="h1">1</tspan> (dB)</text><path d="M763,0L583,0L583,1147Q518,1085 412,1023Q306,961 222,930L222,1104Q373,1175 486,1276Q599,1377 646,1472L763,1472Z" transform="translate(-54.45,0) scale(0.02036,-0.01938)"/><path d="M763,0L583,0L583,1147Q518,1085 412,1023Q306,961 222,930L222,1104Q373,1175 486,1276Q599,1377 646,1472L763,1472Z" transform="translate(-31.27,0) scale(0.02036,-0.01938)"/></g>
</svg>
</body></html>
